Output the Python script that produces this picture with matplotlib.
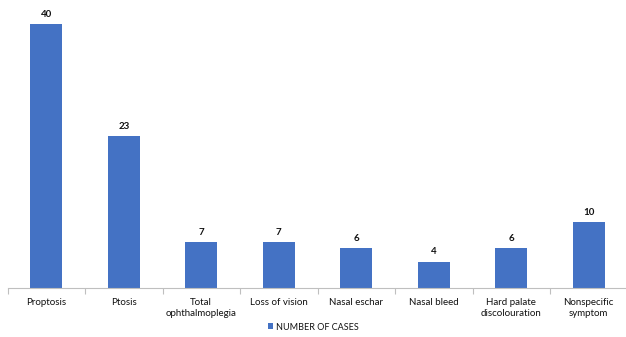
import matplotlib
matplotlib.use("Agg")
import matplotlib.pyplot as plt
import numpy as np

categories = ["Proptosis", "Ptosis", "Total\nophthalmoplegia", "Loss of vision",
              "Nasal eschar", "Nasal bleed", "Hard palate\ndiscolouration", "Nonspecific\nsymptom"]
values = [40, 23, 7, 7, 6, 4, 6, 10]
series_name = "NUMBER OF CASES"

plt.rcParams['font.family'] = ['Lato', 'DejaVu Sans']

W, H = 626, 337
fig = plt.figure(figsize=(W/100, H/100), dpi=100)
left = 7.5 / W
bottom = 49 / H
top_px = 10
ax = fig.add_axes([left, bottom, 620 / W, (288 - top_px) / H])

x = np.arange(len(categories))
color = "#4472C4"
bars = ax.bar(x, values, width=0.41, color=color, label=series_name, zorder=2)
for xi, v in zip(x, values):
    ax.text(xi, v + 0.8, str(v), ha="center", va="bottom", fontsize=7, fontweight="bold", color="#111111")

ax.set_xlim(-0.5, len(categories) - 0.5)
ax.set_ylim(0, (288 - top_px) / 6.6)
ax.set_yticks([])
for s in ["top", "right", "left"]:
    ax.spines[s].set_visible(False)
ax.spines["bottom"].set_color("#BFBFBF")
ax.spines["bottom"].set_linewidth(0.8)

ax.set_xticks(x)
ax.set_xticklabels(categories, fontsize=7, color="#111111", linespacing=1.3)
ax.tick_params(axis="x", which="major", length=0, pad=7)
ax.set_xticks(np.arange(-0.5, len(categories) + 0.5, 1), minor=True)
ax.tick_params(axis="x", which="minor", length=4, color="#BFBFBF", width=0.8)

leg = fig.legend(handles=[bars], labels=[series_name], loc="center",
                 bbox_to_anchor=(0.5, 1 - 327 / H), frameon=False, fontsize=6.5,
                 handlelength=0.6, handleheight=0.6, handletextpad=0.3)
for t in leg.get_texts():
    t.set_color("#111111")

fig.savefig("out.png", dpi=100)
